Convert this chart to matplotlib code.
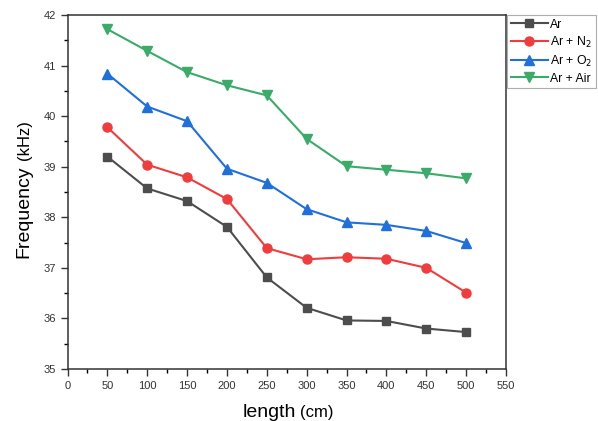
import matplotlib.pyplot as plt
from matplotlib.ticker import MultipleLocator

plt.rcParams['font.family'] = ['Liberation Sans', 'DejaVu Sans']

length = [50, 100, 150, 200, 250, 300, 350, 400, 450, 500]
f_ar = [39.20, 38.57, 38.32, 37.81, 36.81, 36.21, 35.96, 35.95, 35.80, 35.73]
f_n2 = [39.78, 39.04, 38.79, 38.36, 37.39, 37.17, 37.21, 37.18, 37.00, 36.51]
f_o2 = [40.84, 40.19, 39.90, 38.96, 38.68, 38.16, 37.90, 37.85, 37.73, 37.49]
f_air = [41.72, 41.29, 40.87, 40.61, 40.41, 39.55, 39.01, 38.94, 38.87, 38.77]

fig = plt.figure(figsize=(5.98, 4.21), dpi=100)
ax = fig.add_axes([67.5 / 598, 1 - 369 / 421, (506 - 67.5) / 598, (369 - 15) / 421])

ax.plot(length, f_ar, color='#4d4d4d', marker='s', ms=5.5, lw=1.5, label='Ar')
ax.plot(length, f_n2, color='#f03c3c', marker='o', ms=6.5, lw=1.5, label='Ar + N$_2$')
ax.plot(length, f_o2, color='#1f6fdc', marker='^', ms=7, lw=1.5, label='Ar + O$_2$')
ax.plot(length, f_air, color='#3aab68', marker='v', ms=7, lw=1.5, label='Ar + Air')

ax.set_xlim(0, 550)
ax.set_ylim(35, 42)
ax.xaxis.set_major_locator(MultipleLocator(50))
ax.xaxis.set_minor_locator(MultipleLocator(25))
ax.yaxis.set_major_locator(MultipleLocator(1))
ax.yaxis.set_minor_locator(MultipleLocator(0.5))
ax.tick_params(which='major', direction='out', length=5, width=1, labelsize=8, colors='#333333')
ax.tick_params(which='minor', direction='out', length=3, width=1)
for s in ax.spines.values():
    s.set_linewidth(1.1)
    s.set_color('#333333')

# axis titles, unit part a bit smaller like the original
ax.text(0.4, -0.135, 'length', transform=ax.transAxes, ha='left', va='baseline', fontsize=14)
ax.text(0.53, -0.135, '(cm)', transform=ax.transAxes, ha='left', va='baseline', fontsize=12)
ax.text(-0.099, 0.4435, 'Frequency', transform=ax.transAxes, ha='center', va='center',
        rotation=90, fontsize=14)
ax.text(-0.097, 0.647, '(kHz)', transform=ax.transAxes, ha='center', va='center',
        rotation=90, fontsize=12)

leg = ax.legend(loc='upper left', bbox_to_anchor=(1.003, 1.0), fontsize=8.8, frameon=True,
                fancybox=False, edgecolor='#999999', borderpad=0.3, labelspacing=0.32,
                handlelength=3.0, handletextpad=0.2, borderaxespad=0.0)
leg.get_frame().set_linewidth(0.8)

fig.savefig('out.png', dpi=100)
